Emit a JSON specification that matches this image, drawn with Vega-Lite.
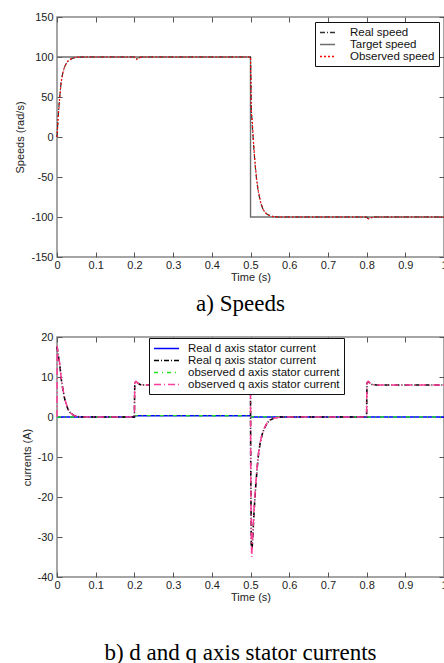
{
  "$schema": "https://vega.github.io/schema/vega-lite/v6.json",
  "background": "white",
  "padding": {"left": 14, "top": 10, "right": 0, "bottom": 0},
  "config": {
    "locale": {"number": {"decimal": ".", "thousands": ",", "grouping": [3], "currency": ["$", ""], "minus": "-"}},
    "view": {"stroke": "#888888", "strokeWidth": 1.5},
    "axis": {"grid": false, "domain": false, "tickColor": "#555555", "tickSize": -5, "labelPadding": 9, "labelFont": "Liberation Sans", "labelFontSize": 11, "labelColor": "#222222", "titleFont": "Liberation Sans", "titleFontSize": 11, "titleFontWeight": "normal", "titleColor": "#222222", "labelFlush": false},
    "axisX": {"labelPadding": 7},
    "legend": {"labelFont": "Liberation Sans", "labelFontSize": 11.5, "labelColor": "#111111", "strokeColor": "#111111", "fillColor": "white", "padding": 4, "rowPadding": 0, "symbolStrokeWidth": 1.3, "symbolSize": 121},
    "title": {"font": "Liberation Serif", "fontSize": 23, "fontWeight": "normal", "orient": "bottom", "color": "black"},
    "concat": {"spacing": 13}
  },
  "resolve": {"scale": {"color": "independent", "strokeDash": "independent"}, "legend": {"color": "independent", "strokeDash": "independent"}},
  "datasets": {
    "sp": [
      {"t": 0, "v": 100, "s": "Target speed"}, {"t": 0.5, "v": 100, "s": "Target speed"}, {"t": 0.5001, "v": -100, "s": "Target speed"}, {"t": 1, "v": -100, "s": "Target speed"},
      {"t": 0, "v": 0, "s": "Real  speed"}, {"t": 0.003, "v": 25, "s": "Real  speed"}, {"t": 0.0067, "v": 49, "s": "Real  speed"}, {"t": 0.011, "v": 70, "s": "Real  speed"}, {"t": 0.015, "v": 80, "s": "Real  speed"}, {"t": 0.02, "v": 88, "s": "Real  speed"}, {"t": 0.025, "v": 93, "s": "Real  speed"}, {"t": 0.03, "v": 95.5, "s": "Real  speed"}, {"t": 0.037, "v": 97.7, "s": "Real  speed"}, {"t": 0.045, "v": 99, "s": "Real  speed"}, {"t": 0.054, "v": 99.8, "s": "Real  speed"}, {"t": 0.07, "v": 100, "s": "Real  speed"}, {"t": 0.2, "v": 100, "s": "Real  speed"}, {"t": 0.203, "v": 98.5, "s": "Real  speed"}, {"t": 0.207, "v": 97.5, "s": "Real  speed"}, {"t": 0.212, "v": 99.2, "s": "Real  speed"}, {"t": 0.22, "v": 100, "s": "Real  speed"}, {"t": 0.5, "v": 100, "s": "Real  speed"}, {"t": 0.501, "v": 75, "s": "Real  speed"}, {"t": 0.502, "v": 35, "s": "Real  speed"}, {"t": 0.505, "v": 12, "s": "Real  speed"}, {"t": 0.509, "v": -17, "s": "Real  speed"}, {"t": 0.512, "v": -35, "s": "Real  speed"}, {"t": 0.516, "v": -55, "s": "Real  speed"}, {"t": 0.52, "v": -68, "s": "Real  speed"}, {"t": 0.526, "v": -82, "s": "Real  speed"}, {"t": 0.532, "v": -90, "s": "Real  speed"}, {"t": 0.538, "v": -94.5, "s": "Real  speed"}, {"t": 0.543, "v": -96.5, "s": "Real  speed"}, {"t": 0.55, "v": -98.3, "s": "Real  speed"}, {"t": 0.559, "v": -99.5, "s": "Real  speed"}, {"t": 0.57, "v": -100, "s": "Real  speed"}, {"t": 0.8, "v": -100, "s": "Real  speed"}, {"t": 0.803, "v": -101.5, "s": "Real  speed"}, {"t": 0.807, "v": -102, "s": "Real  speed"}, {"t": 0.812, "v": -100.8, "s": "Real  speed"}, {"t": 0.82, "v": -100, "s": "Real  speed"}, {"t": 1, "v": -100, "s": "Real  speed"},
      {"t": 0, "v": 0, "s": "Observed speed"}, {"t": 0.003, "v": 24, "s": "Observed speed"}, {"t": 0.0067, "v": 48, "s": "Observed speed"}, {"t": 0.011, "v": 69, "s": "Observed speed"}, {"t": 0.015, "v": 80, "s": "Observed speed"}, {"t": 0.02, "v": 88.5, "s": "Observed speed"}, {"t": 0.025, "v": 93, "s": "Observed speed"}, {"t": 0.03, "v": 95.8, "s": "Observed speed"}, {"t": 0.037, "v": 97.8, "s": "Observed speed"}, {"t": 0.045, "v": 99.1, "s": "Observed speed"}, {"t": 0.054, "v": 99.8, "s": "Observed speed"}, {"t": 0.07, "v": 100, "s": "Observed speed"}, {"t": 0.2, "v": 100, "s": "Observed speed"}, {"t": 0.203, "v": 97.8, "s": "Observed speed"}, {"t": 0.206, "v": 96.7, "s": "Observed speed"}, {"t": 0.212, "v": 99, "s": "Observed speed"}, {"t": 0.22, "v": 100, "s": "Observed speed"}, {"t": 0.5, "v": 100, "s": "Observed speed"}, {"t": 0.501, "v": 72, "s": "Observed speed"}, {"t": 0.502, "v": 30, "s": "Observed speed"}, {"t": 0.504, "v": 24, "s": "Observed speed"}, {"t": 0.509, "v": -15, "s": "Observed speed"}, {"t": 0.512, "v": -33, "s": "Observed speed"}, {"t": 0.516, "v": -53, "s": "Observed speed"}, {"t": 0.52, "v": -67, "s": "Observed speed"}, {"t": 0.526, "v": -81, "s": "Observed speed"}, {"t": 0.532, "v": -90, "s": "Observed speed"}, {"t": 0.538, "v": -94.5, "s": "Observed speed"}, {"t": 0.543, "v": -96.6, "s": "Observed speed"}, {"t": 0.55, "v": -98.4, "s": "Observed speed"}, {"t": 0.559, "v": -99.5, "s": "Observed speed"}, {"t": 0.57, "v": -100, "s": "Observed speed"}, {"t": 0.8, "v": -100, "s": "Observed speed"}, {"t": 0.803, "v": -101.8, "s": "Observed speed"}, {"t": 0.806, "v": -102.5, "s": "Observed speed"}, {"t": 0.812, "v": -101, "s": "Observed speed"}, {"t": 0.82, "v": -100, "s": "Observed speed"}, {"t": 1, "v": -100, "s": "Observed speed"}
    ],
    "cu": [
      {"t": 0, "v": 0, "s": "Real d axis stator current"}, {"t": 0.2, "v": 0, "s": "Real d axis stator current"}, {"t": 0.2005, "v": 0.3, "s": "Real d axis stator current"}, {"t": 0.5, "v": 0.3, "s": "Real d axis stator current"}, {"t": 0.5005, "v": 0, "s": "Real d axis stator current"}, {"t": 1, "v": 0, "s": "Real d axis stator current"},
      {"t": 0, "v": 0, "s": "observed d axis stator current"}, {"t": 0.2, "v": 0, "s": "observed d axis stator current"}, {"t": 0.2005, "v": 0.35, "s": "observed d axis stator current"}, {"t": 0.5, "v": 0.3, "s": "observed d axis stator current"}, {"t": 0.5005, "v": 0.05, "s": "observed d axis stator current"}, {"t": 0.8, "v": 0, "s": "observed d axis stator current"}, {"t": 1, "v": 0, "s": "observed d axis stator current"},
      {"t": 0, "v": 17.6, "s": "Real q axis stator current"}, {"t": 0.003, "v": 15.5, "s": "Real q axis stator current"}, {"t": 0.0067, "v": 13.5, "s": "Real q axis stator current"}, {"t": 0.011, "v": 9.5, "s": "Real q axis stator current"}, {"t": 0.015, "v": 7, "s": "Real q axis stator current"}, {"t": 0.02, "v": 4.5, "s": "Real q axis stator current"}, {"t": 0.028, "v": 2, "s": "Real q axis stator current"}, {"t": 0.035, "v": 1, "s": "Real q axis stator current"}, {"t": 0.045, "v": 0.3, "s": "Real q axis stator current"}, {"t": 0.06, "v": 0, "s": "Real q axis stator current"}, {"t": 0.2, "v": 0, "s": "Real q axis stator current"}, {"t": 0.2005, "v": 5, "s": "Real q axis stator current"}, {"t": 0.201, "v": 8.5, "s": "Real q axis stator current"}, {"t": 0.204, "v": 8.8, "s": "Real q axis stator current"}, {"t": 0.21, "v": 8.4, "s": "Real q axis stator current"}, {"t": 0.215, "v": 8.1, "s": "Real q axis stator current"}, {"t": 0.225, "v": 8, "s": "Real q axis stator current"}, {"t": 0.5, "v": 8, "s": "Real q axis stator current"}, {"t": 0.5005, "v": -10, "s": "Real q axis stator current"}, {"t": 0.502, "v": -32, "s": "Real q axis stator current"}, {"t": 0.504, "v": -33, "s": "Real q axis stator current"}, {"t": 0.506, "v": -30, "s": "Real q axis stator current"}, {"t": 0.509, "v": -24, "s": "Real q axis stator current"}, {"t": 0.513, "v": -18, "s": "Real q axis stator current"}, {"t": 0.517, "v": -13, "s": "Real q axis stator current"}, {"t": 0.521, "v": -9, "s": "Real q axis stator current"}, {"t": 0.525, "v": -6.5, "s": "Real q axis stator current"}, {"t": 0.53, "v": -4.4, "s": "Real q axis stator current"}, {"t": 0.536, "v": -2.8, "s": "Real q axis stator current"}, {"t": 0.543, "v": -1.5, "s": "Real q axis stator current"}, {"t": 0.55, "v": -0.8, "s": "Real q axis stator current"}, {"t": 0.56, "v": -0.3, "s": "Real q axis stator current"}, {"t": 0.578, "v": 0, "s": "Real q axis stator current"}, {"t": 0.8, "v": 0, "s": "Real q axis stator current"}, {"t": 0.8005, "v": 5, "s": "Real q axis stator current"}, {"t": 0.801, "v": 8.5, "s": "Real q axis stator current"}, {"t": 0.804, "v": 8.8, "s": "Real q axis stator current"}, {"t": 0.81, "v": 8.4, "s": "Real q axis stator current"}, {"t": 0.815, "v": 8.1, "s": "Real q axis stator current"}, {"t": 0.825, "v": 8, "s": "Real q axis stator current"}, {"t": 1, "v": 8, "s": "Real q axis stator current"},
      {"t": 0, "v": 0, "s": "observed q axis stator current"}, {"t": 0.0005, "v": 17.8, "s": "observed q axis stator current"}, {"t": 0.003, "v": 15.8, "s": "observed q axis stator current"}, {"t": 0.0067, "v": 13.6, "s": "observed q axis stator current"}, {"t": 0.011, "v": 9.6, "s": "observed q axis stator current"}, {"t": 0.015, "v": 7.1, "s": "observed q axis stator current"}, {"t": 0.02, "v": 4.6, "s": "observed q axis stator current"}, {"t": 0.028, "v": 2, "s": "observed q axis stator current"}, {"t": 0.035, "v": 1, "s": "observed q axis stator current"}, {"t": 0.045, "v": 0.3, "s": "observed q axis stator current"}, {"t": 0.06, "v": 0, "s": "observed q axis stator current"}, {"t": 0.2, "v": 0, "s": "observed q axis stator current"}, {"t": 0.2005, "v": 5.5, "s": "observed q axis stator current"}, {"t": 0.201, "v": 8.6, "s": "observed q axis stator current"}, {"t": 0.204, "v": 8.9, "s": "observed q axis stator current"}, {"t": 0.21, "v": 8.4, "s": "observed q axis stator current"}, {"t": 0.215, "v": 8.1, "s": "observed q axis stator current"}, {"t": 0.225, "v": 8, "s": "observed q axis stator current"}, {"t": 0.5, "v": 8, "s": "observed q axis stator current"}, {"t": 0.5005, "v": -12, "s": "observed q axis stator current"}, {"t": 0.502, "v": -30, "s": "observed q axis stator current"}, {"t": 0.503, "v": -35, "s": "observed q axis stator current"}, {"t": 0.505, "v": -31, "s": "observed q axis stator current"}, {"t": 0.509, "v": -23, "s": "observed q axis stator current"}, {"t": 0.513, "v": -17.5, "s": "observed q axis stator current"}, {"t": 0.517, "v": -12.5, "s": "observed q axis stator current"}, {"t": 0.521, "v": -8.8, "s": "observed q axis stator current"}, {"t": 0.525, "v": -6.3, "s": "observed q axis stator current"}, {"t": 0.53, "v": -4.3, "s": "observed q axis stator current"}, {"t": 0.536, "v": -2.7, "s": "observed q axis stator current"}, {"t": 0.543, "v": -1.5, "s": "observed q axis stator current"}, {"t": 0.55, "v": -0.8, "s": "observed q axis stator current"}, {"t": 0.56, "v": -0.3, "s": "observed q axis stator current"}, {"t": 0.578, "v": 0, "s": "observed q axis stator current"}, {"t": 0.8, "v": 0, "s": "observed q axis stator current"}, {"t": 0.8005, "v": 5.5, "s": "observed q axis stator current"}, {"t": 0.801, "v": 8.6, "s": "observed q axis stator current"}, {"t": 0.804, "v": 8.9, "s": "observed q axis stator current"}, {"t": 0.81, "v": 8.4, "s": "observed q axis stator current"}, {"t": 0.815, "v": 8.1, "s": "observed q axis stator current"}, {"t": 0.825, "v": 8, "s": "observed q axis stator current"}, {"t": 1, "v": 8, "s": "observed q axis stator current"}
    ]
  },
  "vconcat": [
    {
      "width": 387,
      "height": 240,
      "title": {"text": "a) Speeds", "offset": 11, "frame": "group", "dx": -10},
      "data": {"name": "sp"},
      "resolve": {"axis": {"x": "independent", "y": "independent"}},
      "encoding": {
        "x": {"field": "t", "type": "quantitative", "scale": {"domain": [0, 1], "nice": false, "zero": false}},
        "y": {"field": "v", "type": "quantitative", "scale": {"domain": [-150, 150], "nice": false}},
        "color": {"field": "s", "type": "nominal", "scale": {"domain": ["Real  speed", "Target speed", "Observed speed"], "range": ["#333333", "#6e6e6e", "#ff0000"]}, "legend": {"title": null, "orient": "top-right", "offset": 5, "symbolType": "M-1,0H1.73", "labelOffset": 18}},
        "strokeDash": {"field": "s", "type": "nominal", "scale": {"domain": ["Real  speed", "Target speed", "Observed speed"], "range": [[5, 2, 1, 2], [1, 0], [2, 2]]}, "legend": {"title": null, "orient": "top-right", "offset": 5, "symbolType": "M-1,0H1.73", "labelOffset": 18}}
      },
      "layer": [
        {
          "transform": [{"filter": "datum.s == 'Target speed'"}],
          "mark": {"type": "line", "strokeWidth": 1.4},
          "encoding": {
            "x": {"field": "t", "type": "quantitative", "axis": {"orient": "bottom", "title": "Time (s)", "values": [0, 0.1, 0.2, 0.3, 0.4, 0.5, 0.6, 0.7, 0.8, 0.9, 1], "format": ".1~f", "titlePadding": 1}},
            "y": {"field": "v", "type": "quantitative", "axis": {"orient": "left", "title": "Speeds (rad/s)", "values": [-150, -100, -50, 0, 50, 100, 150], "titlePadding": 5}}
          }
        },
        {
          "transform": [{"filter": "datum.s == 'Real  speed'"}],
          "mark": {"type": "line", "strokeWidth": 1.2},
          "encoding": {
            "x": {"field": "t", "type": "quantitative", "axis": {"orient": "top", "title": null, "labels": false, "values": [0, 0.1, 0.2, 0.3, 0.4, 0.5, 0.6, 0.7, 0.8, 0.9, 1]}},
            "y": {"field": "v", "type": "quantitative", "axis": {"orient": "right", "title": null, "labels": false, "values": [-150, -100, -50, 0, 50, 100, 150]}}
          }
        },
        {
          "transform": [{"filter": "datum.s == 'Observed speed'"}],
          "mark": {"type": "line", "strokeWidth": 1.1},
          "encoding": {
            "x": {"field": "t", "type": "quantitative", "axis": null},
            "y": {"field": "v", "type": "quantitative", "axis": null}
          }
        }
      ]
    },
    {
      "width": 387,
      "height": 240,
      "title": {"text": "b) d and q axis stator currents", "offset": 40, "frame": "group", "dx": -10},
      "data": {"name": "cu"},
      "resolve": {"axis": {"x": "independent", "y": "independent"}},
      "encoding": {
        "x": {"field": "t", "type": "quantitative", "scale": {"domain": [0, 1], "nice": false, "zero": false}},
        "y": {"field": "v", "type": "quantitative", "scale": {"domain": [-40, 20], "nice": false}},
        "color": {"field": "s", "type": "nominal", "scale": {"domain": ["Real d axis stator current", "Real q axis stator current", "observed d axis stator current", "observed q axis stator current"], "range": ["#0000ff", "#000000", "#22dd22", "#ff3d9a"]}, "legend": {"title": null, "orient": "none", "legendX": 92, "legendY": 1, "symbolType": "M-1,0H3.55", "labelOffset": 22}},
        "strokeDash": {"field": "s", "type": "nominal", "scale": {"domain": ["Real d axis stator current", "Real q axis stator current", "observed d axis stator current", "observed q axis stator current"], "range": [[1, 0], [5, 2, 1, 2], [4, 4, 1, 4], [7, 3, 1, 3]]}, "legend": {"title": null, "orient": "none", "legendX": 92, "legendY": 1, "symbolType": "M-1,0H3.55", "labelOffset": 22}}
      },
      "layer": [
        {
          "transform": [{"filter": "datum.s == 'Real d axis stator current'"}],
          "mark": {"type": "line", "strokeWidth": 1.5},
          "encoding": {
            "x": {"field": "t", "type": "quantitative", "axis": {"orient": "bottom", "title": "Time (s)", "values": [0, 0.1, 0.2, 0.3, 0.4, 0.5, 0.6, 0.7, 0.8, 0.9, 1], "format": ".1~f", "titlePadding": 1}},
            "y": {"field": "v", "type": "quantitative", "axis": {"orient": "left", "title": "currents (A)", "values": [-40, -30, -20, -10, 0, 10, 20], "titlePadding": 5}}
          }
        },
        {
          "transform": [{"filter": "datum.s == 'observed d axis stator current'"}],
          "mark": {"type": "line", "strokeWidth": 1.4},
          "encoding": {
            "x": {"field": "t", "type": "quantitative", "axis": {"orient": "top", "title": null, "labels": false, "values": [0, 0.1, 0.2, 0.3, 0.4, 0.5, 0.6, 0.7, 0.8, 0.9, 1]}},
            "y": {"field": "v", "type": "quantitative", "axis": {"orient": "right", "title": null, "labels": false, "values": [-40, -30, -20, -10, 0, 10, 20]}}
          }
        },
        {
          "transform": [{"filter": "datum.s == 'Real q axis stator current'"}],
          "mark": {"type": "line", "strokeWidth": 1.6},
          "encoding": {
            "x": {"field": "t", "type": "quantitative", "axis": null},
            "y": {"field": "v", "type": "quantitative", "axis": null}
          }
        },
        {
          "transform": [{"filter": "datum.s == 'observed q axis stator current'"}],
          "mark": {"type": "line", "strokeWidth": 1.5},
          "encoding": {
            "x": {"field": "t", "type": "quantitative", "axis": null},
            "y": {"field": "v", "type": "quantitative", "axis": null}
          }
        }
      ]
    }
  ]
}
